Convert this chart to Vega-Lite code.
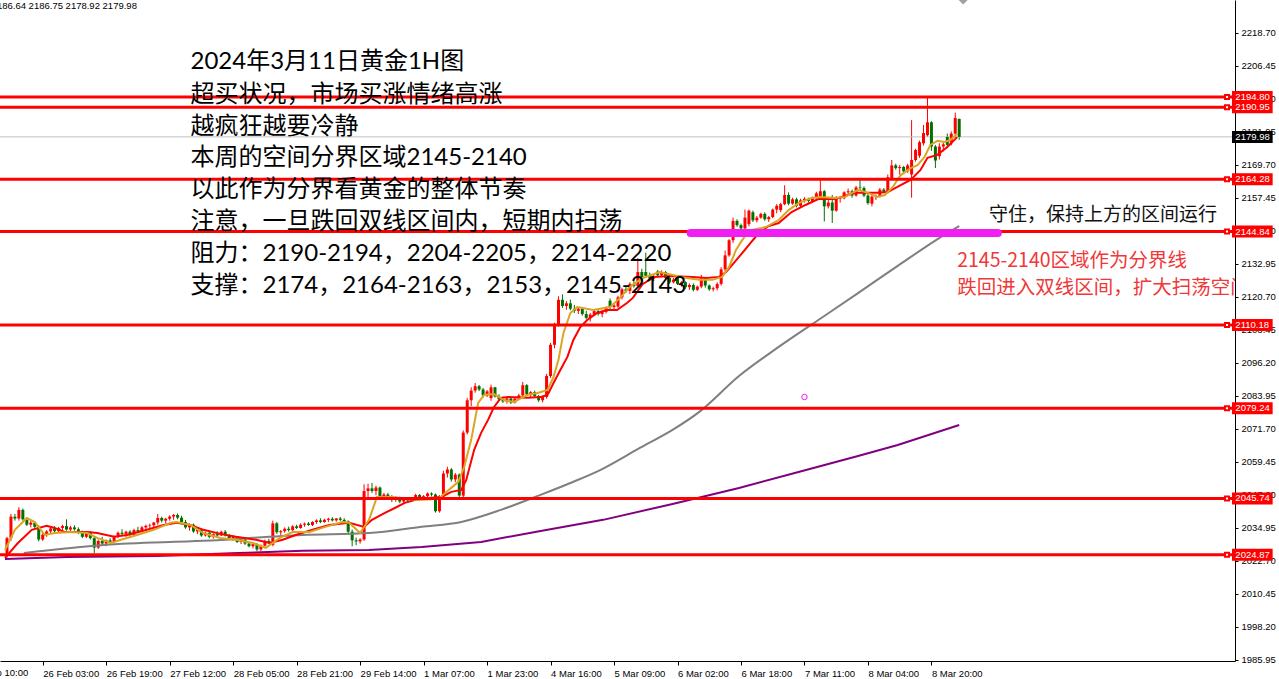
{
"$schema":"https://vega.github.io/schema/vega-lite/v6.json",
"width":1235,"height":661,
"autosize":{"type":"none"},
"padding":{"left":0,"top":0,"right":44,"bottom":18},
"background":"white",
"config":{"view":{"stroke":null},"axis":{"domainColor":"#000000","tickColor":"#000000","labelColor":"#000000","labelFont":"Liberation Sans","labelFontSize":9.5,"grid":false}},
"resolve":{"axis":{"x":"independent","y":"independent"}},
"datasets":{
"c":[
{"i":-9,"o":2025,"h":2031.5,"l":2023.7,"c":2031},
{"i":-8,"o":2031,"h":2040,"l":2030,"c":2039},
{"i":-7,"o":2039,"h":2040,"l":2037.5,"c":2038.3},
{"i":-6,"o":2038.3,"h":2042.5,"l":2037.5,"c":2041.5},
{"i":-5,"o":2041.5,"h":2042,"l":2037.5,"c":2038},
{"i":-4,"o":2038,"h":2038.8,"l":2035.5,"c":2036},
{"i":-3,"o":2036,"h":2037.5,"l":2035,"c":2036.8},
{"i":-2,"o":2036.8,"h":2037.2,"l":2034.5,"c":2035.2},
{"i":-1,"o":2035.2,"h":2035.8,"l":2029.8,"c":2030.5},
{"i":0,"o":2030.5,"h":2033,"l":2030,"c":2032.3},
{"i":1,"o":2032.3,"h":2034,"l":2031.5,"c":2033.5},
{"i":2,"o":2033.5,"h":2035,"l":2032.8,"c":2034.6},
{"i":3,"o":2034.6,"h":2035.5,"l":2033,"c":2033.6},
{"i":4,"o":2033.6,"h":2035.2,"l":2033.2,"c":2034.8},
{"i":5,"o":2034.8,"h":2036,"l":2034,"c":2035.5},
{"i":6,"o":2035.5,"h":2038,"l":2033.8,"c":2034.2},
{"i":7,"o":2034.2,"h":2035.6,"l":2033.5,"c":2035},
{"i":8,"o":2035,"h":2035.8,"l":2033.8,"c":2034.3},
{"i":9,"o":2034.3,"h":2035,"l":2032.5,"c":2033},
{"i":10,"o":2033,"h":2033.8,"l":2031,"c":2031.5},
{"i":11,"o":2031.5,"h":2033.5,"l":2031,"c":2033},
{"i":12,"o":2033,"h":2033.6,"l":2030.5,"c":2031},
{"i":13,"o":2031,"h":2031.5,"l":2025.5,"c":2027.5},
{"i":14,"o":2027.5,"h":2030.5,"l":2027,"c":2030},
{"i":15,"o":2030,"h":2031.5,"l":2028.5,"c":2029},
{"i":16,"o":2029,"h":2030.5,"l":2028,"c":2030.2},
{"i":17,"o":2030.2,"h":2031,"l":2029,"c":2029.6},
{"i":18,"o":2029.6,"h":2032,"l":2029.2,"c":2031.6},
{"i":19,"o":2031.6,"h":2033.5,"l":2031,"c":2033},
{"i":20,"o":2033,"h":2034.3,"l":2032,"c":2032.6},
{"i":21,"o":2032.6,"h":2033.8,"l":2031.5,"c":2033.4},
{"i":22,"o":2033.4,"h":2034,"l":2031.8,"c":2032.2},
{"i":23,"o":2032.2,"h":2034.5,"l":2032,"c":2034},
{"i":24,"o":2034,"h":2035.2,"l":2033,"c":2033.5},
{"i":25,"o":2033.5,"h":2035.5,"l":2033.2,"c":2035},
{"i":26,"o":2035,"h":2036,"l":2034,"c":2035.6},
{"i":27,"o":2035.6,"h":2036.4,"l":2034.5,"c":2035.8},
{"i":28,"o":2035.8,"h":2037,"l":2035,"c":2036.8},
{"i":29,"o":2036.8,"h":2040,"l":2036,"c":2038.5},
{"i":30,"o":2038.5,"h":2039,"l":2036.8,"c":2037.5},
{"i":31,"o":2037.5,"h":2038.6,"l":2036.5,"c":2038.2},
{"i":32,"o":2038.2,"h":2039.5,"l":2037.5,"c":2039},
{"i":33,"o":2039,"h":2040,"l":2037.8,"c":2039.6},
{"i":34,"o":2039.6,"h":2040.2,"l":2038,"c":2038.6},
{"i":35,"o":2038.6,"h":2039.3,"l":2036.5,"c":2037},
{"i":36,"o":2037,"h":2037.8,"l":2034.5,"c":2035},
{"i":37,"o":2035,"h":2036.5,"l":2033.8,"c":2036},
{"i":38,"o":2036,"h":2036.4,"l":2033,"c":2033.5},
{"i":39,"o":2033.5,"h":2034.8,"l":2032.5,"c":2034.2},
{"i":40,"o":2034.2,"h":2034.6,"l":2031.5,"c":2032},
{"i":41,"o":2032,"h":2033.5,"l":2031.6,"c":2033},
{"i":42,"o":2033,"h":2033.4,"l":2031,"c":2031.5},
{"i":43,"o":2031.5,"h":2032.8,"l":2030.8,"c":2032.5},
{"i":44,"o":2032.5,"h":2033.6,"l":2031.5,"c":2032},
{"i":45,"o":2032,"h":2033.8,"l":2031.8,"c":2033.4},
{"i":46,"o":2033.4,"h":2034,"l":2031.6,"c":2032},
{"i":47,"o":2032,"h":2032.6,"l":2030.5,"c":2031},
{"i":48,"o":2031,"h":2032,"l":2030,"c":2031.5},
{"i":49,"o":2031.5,"h":2031.8,"l":2029.2,"c":2029.6},
{"i":50,"o":2029.6,"h":2031,"l":2028.8,"c":2030.5},
{"i":51,"o":2030.5,"h":2031,"l":2028.5,"c":2029},
{"i":52,"o":2029,"h":2029.6,"l":2027.6,"c":2028},
{"i":53,"o":2028,"h":2029.4,"l":2027.2,"c":2028.8},
{"i":54,"o":2028.8,"h":2029.2,"l":2026.2,"c":2026.8},
{"i":55,"o":2026.8,"h":2028.6,"l":2026.2,"c":2028.2},
{"i":56,"o":2028.2,"h":2030.5,"l":2027.8,"c":2030},
{"i":57,"o":2030,"h":2030.8,"l":2028.8,"c":2029.4},
{"i":58,"o":2028.5,"h":2037.5,"l":2028,"c":2036.5},
{"i":59,"o":2036.5,"h":2037,"l":2032.6,"c":2033.2},
{"i":60,"o":2033.2,"h":2034,"l":2032.2,"c":2033.6},
{"i":61,"o":2033.6,"h":2035,"l":2033,"c":2034.5},
{"i":62,"o":2034.5,"h":2035.3,"l":2033.4,"c":2034},
{"i":63,"o":2034,"h":2035.8,"l":2033.6,"c":2035.4},
{"i":64,"o":2035.4,"h":2036,"l":2034.4,"c":2034.8},
{"i":65,"o":2034.8,"h":2036.5,"l":2034.5,"c":2036},
{"i":66,"o":2036,"h":2036.8,"l":2035.2,"c":2036.4},
{"i":67,"o":2036.4,"h":2037,"l":2035.6,"c":2035.9},
{"i":68,"o":2035.9,"h":2037.3,"l":2035.5,"c":2037},
{"i":69,"o":2037,"h":2038,"l":2036.3,"c":2037.6},
{"i":70,"o":2037.6,"h":2038.4,"l":2036.6,"c":2037},
{"i":71,"o":2037,"h":2038.2,"l":2036.7,"c":2037.8},
{"i":72,"o":2037.8,"h":2038.6,"l":2037,"c":2038.2},
{"i":73,"o":2038.2,"h":2038.8,"l":2037.2,"c":2037.6},
{"i":74,"o":2037.6,"h":2038.5,"l":2037.1,"c":2038.3},
{"i":75,"o":2038.3,"h":2038.9,"l":2037.4,"c":2037.8},
{"i":76,"o":2037.8,"h":2038.4,"l":2036.8,"c":2037.2},
{"i":77,"o":2037.2,"h":2037.6,"l":2032.8,"c":2033.4},
{"i":78,"o":2033.4,"h":2034.2,"l":2028,"c":2030.2},
{"i":79,"o":2030.2,"h":2031.2,"l":2028.4,"c":2029.8},
{"i":80,"o":2029.8,"h":2031,"l":2029,"c":2030.5},
{"i":81,"o":2030.5,"h":2051,"l":2030,"c":2048.5},
{"i":82,"o":2048.5,"h":2051.2,"l":2046,"c":2049.5},
{"i":83,"o":2049.5,"h":2051.5,"l":2047.8,"c":2048.5},
{"i":84,"o":2048.5,"h":2050.5,"l":2047,"c":2049.8},
{"i":85,"o":2049.8,"h":2050.2,"l":2045.8,"c":2046.5},
{"i":86,"o":2046.5,"h":2047.8,"l":2045.5,"c":2047.2},
{"i":87,"o":2047.2,"h":2047.8,"l":2045.6,"c":2046},
{"i":88,"o":2046,"h":2047,"l":2044.4,"c":2045.2},
{"i":89,"o":2045.2,"h":2046.5,"l":2044.5,"c":2046},
{"i":90,"o":2046,"h":2046.4,"l":2044,"c":2044.6},
{"i":91,"o":2044.6,"h":2045.8,"l":2043.8,"c":2045.4},
{"i":92,"o":2045.4,"h":2046,"l":2044.6,"c":2045},
{"i":93,"o":2045,"h":2046.2,"l":2044.5,"c":2045.8},
{"i":94,"o":2045.8,"h":2047.5,"l":2045.2,"c":2047},
{"i":95,"o":2047,"h":2047.4,"l":2045.2,"c":2045.7},
{"i":96,"o":2045.7,"h":2047,"l":2045.2,"c":2046.6},
{"i":97,"o":2046.6,"h":2048,"l":2046,"c":2047.6},
{"i":98,"o":2047.6,"h":2048,"l":2046.5,"c":2047.2},
{"i":99,"o":2047.2,"h":2047.6,"l":2040.5,"c":2041},
{"i":100,"o":2041,"h":2047,"l":2040.5,"c":2046.5},
{"i":101,"o":2046.5,"h":2056,"l":2046,"c":2055},
{"i":102,"o":2055,"h":2057.5,"l":2053.5,"c":2056.5},
{"i":103,"o":2056.5,"h":2057,"l":2052,"c":2052.8},
{"i":104,"o":2052.8,"h":2055.2,"l":2051.8,"c":2054.6},
{"i":105,"o":2054.6,"h":2055,"l":2046,"c":2046.8},
{"i":106,"o":2046.8,"h":2071,"l":2045.8,"c":2070.2},
{"i":107,"o":2070.2,"h":2083,"l":2069.5,"c":2082.2},
{"i":108,"o":2082.2,"h":2087,"l":2080,"c":2085.8},
{"i":109,"o":2085.8,"h":2088.6,"l":2085,"c":2087.4},
{"i":110,"o":2087.4,"h":2087.9,"l":2085.6,"c":2086.2},
{"i":111,"o":2086.2,"h":2086.8,"l":2083.2,"c":2084},
{"i":112,"o":2084,"h":2086,"l":2083.4,"c":2085.5},
{"i":113,"o":2083,"h":2088,"l":2082,"c":2087},
{"i":114,"o":2087,"h":2087.2,"l":2083.2,"c":2083.6},
{"i":115,"o":2083.6,"h":2084.4,"l":2082,"c":2082.6},
{"i":116,"o":2082.6,"h":2083.6,"l":2081.2,"c":2081.8},
{"i":117,"o":2081.8,"h":2083.4,"l":2081,"c":2082.9},
{"i":118,"o":2082.9,"h":2083.2,"l":2080.8,"c":2081.4},
{"i":119,"o":2081.4,"h":2083.5,"l":2081,"c":2082.8},
{"i":120,"o":2082.8,"h":2084.6,"l":2082.4,"c":2084},
{"i":121,"o":2084,"h":2089,"l":2083.6,"c":2087.8},
{"i":122,"o":2087.8,"h":2088.2,"l":2083.8,"c":2084.4},
{"i":123,"o":2084.4,"h":2085.6,"l":2083,"c":2085.2},
{"i":124,"o":2085.2,"h":2085.8,"l":2083.2,"c":2083.8},
{"i":125,"o":2083.8,"h":2084.2,"l":2081.6,"c":2082.2},
{"i":126,"o":2082.2,"h":2083.8,"l":2081.4,"c":2083.4},
{"i":127,"o":2083.4,"h":2092,"l":2082.8,"c":2091.2},
{"i":128,"o":2091.2,"h":2103.5,"l":2090.5,"c":2102.8},
{"i":129,"o":2102.8,"h":2111,"l":2101.5,"c":2110.3},
{"i":130,"o":2110.3,"h":2120.8,"l":2109.5,"c":2119.5},
{"i":131,"o":2119.5,"h":2121.5,"l":2116.5,"c":2117.2},
{"i":132,"o":2117.2,"h":2119,"l":2115.8,"c":2118.2},
{"i":133,"o":2118.2,"h":2119.6,"l":2115.6,"c":2116.2},
{"i":134,"o":2116.2,"h":2117.6,"l":2114.6,"c":2115.4},
{"i":135,"o":2115.4,"h":2116.8,"l":2114.2,"c":2116.2},
{"i":136,"o":2116.2,"h":2116.6,"l":2113.6,"c":2114.2},
{"i":137,"o":2114.2,"h":2115.4,"l":2112.2,"c":2112.8},
{"i":138,"o":2112.8,"h":2114.6,"l":2111.4,"c":2114},
{"i":139,"o":2114,"h":2115.8,"l":2113.5,"c":2115.3},
{"i":140,"o":2115.3,"h":2116,"l":2113.6,"c":2114.2},
{"i":141,"o":2114.2,"h":2115.6,"l":2113,"c":2115},
{"i":142,"o":2115,"h":2117,"l":2114.4,"c":2116.4},
{"i":143,"o":2119.2,"h":2120,"l":2116,"c":2116.8},
{"i":144,"o":2116.8,"h":2118,"l":2115.6,"c":2117.4},
{"i":145,"o":2117,"h":2121,"l":2116.5,"c":2120.4},
{"i":146,"o":2120.4,"h":2124,"l":2119.6,"c":2123.4},
{"i":147,"o":2123.4,"h":2124.5,"l":2122,"c":2122.8},
{"i":148,"o":2122.8,"h":2126,"l":2121.6,"c":2125.4},
{"i":149,"o":2125.4,"h":2127,"l":2124,"c":2124.6},
{"i":150,"o":2124.6,"h":2135,"l":2124,"c":2129.8},
{"i":151,"o":2129.8,"h":2131,"l":2126.8,"c":2127.5},
{"i":152,"o":2129.8,"h":2137,"l":2127.6,"c":2128.4},
{"i":153,"o":2128.4,"h":2129.6,"l":2126.6,"c":2127.4},
{"i":154,"o":2127.4,"h":2128.8,"l":2126.4,"c":2128.2},
{"i":155,"o":2130,"h":2130.6,"l":2128,"c":2128.6},
{"i":156,"o":2128.6,"h":2130.4,"l":2128,"c":2129.8},
{"i":157,"o":2129.8,"h":2130.2,"l":2127,"c":2127.6},
{"i":158,"o":2127.6,"h":2128.4,"l":2125.4,"c":2126},
{"i":159,"o":2126,"h":2127.6,"l":2125.6,"c":2127},
{"i":160,"o":2127.6,"h":2128,"l":2125,"c":2125.4},
{"i":161,"o":2125.4,"h":2126.4,"l":2124.4,"c":2126},
{"i":162,"o":2126,"h":2126.4,"l":2123.6,"c":2124.2},
{"i":163,"o":2124.2,"h":2125.6,"l":2123.2,"c":2125},
{"i":164,"o":2125,"h":2125.6,"l":2122.6,"c":2123.2},
{"i":165,"o":2123.2,"h":2124.8,"l":2122.8,"c":2124.4},
{"i":166,"o":2124.4,"h":2128.8,"l":2123.8,"c":2127.4},
{"i":167,"o":2127.4,"h":2128,"l":2124,"c":2124.8},
{"i":168,"o":2124.8,"h":2125.2,"l":2122.8,"c":2123.4},
{"i":169,"o":2123.4,"h":2124.4,"l":2122.6,"c":2123.8},
{"i":170,"o":2123.8,"h":2126,"l":2123,"c":2125.4},
{"i":171,"o":2125.4,"h":2131.6,"l":2124.8,"c":2130.8},
{"i":172,"o":2130.8,"h":2137.8,"l":2130,"c":2136},
{"i":173,"o":2136,"h":2142,"l":2135.5,"c":2141.6},
{"i":174,"o":2141.6,"h":2150,"l":2140.6,"c":2148.8},
{"i":175,"o":2148.8,"h":2149.4,"l":2146.6,"c":2147.2},
{"i":176,"o":2147.2,"h":2147.8,"l":2145.4,"c":2146},
{"i":177,"o":2146,"h":2153,"l":2145.6,"c":2150},
{"i":178,"o":2147.6,"h":2153,"l":2146.8,"c":2152.6},
{"i":179,"o":2152,"h":2152.6,"l":2148.4,"c":2149},
{"i":180,"o":2149,"h":2150.6,"l":2148.2,"c":2150},
{"i":181,"o":2150,"h":2151.8,"l":2149.6,"c":2151.4},
{"i":182,"o":2151.4,"h":2152,"l":2148.8,"c":2149.4},
{"i":183,"o":2149.4,"h":2150.6,"l":2148.4,"c":2150.2},
{"i":184,"o":2150.2,"h":2153.4,"l":2149.8,"c":2153},
{"i":185,"o":2153,"h":2155,"l":2151.6,"c":2154.4},
{"i":186,"o":2152.8,"h":2155.5,"l":2152,"c":2155},
{"i":187,"o":2155,"h":2162,"l":2154.6,"c":2158.4},
{"i":188,"o":2158.4,"h":2159.4,"l":2154.6,"c":2155.2},
{"i":189,"o":2155.2,"h":2157.4,"l":2154.8,"c":2156.8},
{"i":190,"o":2156.8,"h":2157.4,"l":2153.8,"c":2154.4},
{"i":191,"o":2154.4,"h":2157,"l":2154,"c":2156.4},
{"i":192,"o":2156.4,"h":2157.6,"l":2155.6,"c":2157},
{"i":193,"o":2157,"h":2157.4,"l":2155.6,"c":2156.2},
{"i":194,"o":2156.2,"h":2157.8,"l":2155.6,"c":2157.4},
{"i":195,"o":2157.4,"h":2159.6,"l":2157,"c":2159},
{"i":196,"o":2157,"h":2164,"l":2156.6,"c":2159.8},
{"i":197,"o":2159.8,"h":2160.2,"l":2148.6,"c":2154.2},
{"i":198,"o":2154.2,"h":2156.8,"l":2153.4,"c":2155.6},
{"i":199,"o":2155.6,"h":2158.4,"l":2148,"c":2152.6},
{"i":200,"o":2152.6,"h":2158,"l":2152.2,"c":2157},
{"i":201,"o":2157,"h":2157.8,"l":2155.6,"c":2157.2},
{"i":202,"o":2157.2,"h":2159.8,"l":2156.8,"c":2159.4},
{"i":203,"o":2159.4,"h":2160.8,"l":2158.4,"c":2159.8},
{"i":204,"o":2159.8,"h":2160.4,"l":2157.4,"c":2158.2},
{"i":205,"o":2158.2,"h":2161.8,"l":2157.8,"c":2161.2},
{"i":206,"o":2161.2,"h":2164.2,"l":2160.2,"c":2161},
{"i":207,"o":2161,"h":2161.6,"l":2157.6,"c":2158.2},
{"i":208,"o":2158.2,"h":2158.8,"l":2154.8,"c":2155.4},
{"i":209,"o":2155.2,"h":2158.4,"l":2154.2,"c":2157.8},
{"i":210,"o":2157.8,"h":2158.6,"l":2156.6,"c":2158},
{"i":211,"o":2158,"h":2161,"l":2157.6,"c":2160.4},
{"i":212,"o":2160.4,"h":2161,"l":2159.2,"c":2159.6},
{"i":213,"o":2159.6,"h":2166,"l":2159,"c":2165},
{"i":214,"o":2164.6,"h":2171.4,"l":2163.8,"c":2169.4},
{"i":215,"o":2169.4,"h":2170,"l":2167.8,"c":2168.4},
{"i":216,"o":2168.4,"h":2169.6,"l":2166,"c":2168.8},
{"i":217,"o":2168.8,"h":2169.2,"l":2166.8,"c":2167.2},
{"i":218,"o":2167.2,"h":2170,"l":2166.6,"c":2169.4},
{"i":219,"o":2166,"h":2186.2,"l":2157.4,"c":2171.4},
{"i":220,"o":2171.4,"h":2175.6,"l":2170.8,"c":2175.1},
{"i":221,"o":2173,"h":2178.6,"l":2172.2,"c":2178},
{"i":222,"o":2177.6,"h":2184.4,"l":2176.8,"c":2181.4},
{"i":223,"o":2180.6,"h":2194.8,"l":2180,"c":2185.4},
{"i":224,"o":2185.4,"h":2185.8,"l":2174.8,"c":2176.4},
{"i":225,"o":2176.4,"h":2177,"l":2168.4,"c":2171.2},
{"i":226,"o":2172.8,"h":2177.6,"l":2171.6,"c":2176.4},
{"i":227,"o":2176.4,"h":2177.8,"l":2174.6,"c":2177.2},
{"i":228,"o":2180,"h":2181.2,"l":2175.8,"c":2177},
{"i":229,"o":2177.6,"h":2182,"l":2176.8,"c":2181.2},
{"i":230,"o":2181.2,"h":2189,"l":2179.6,"c":2187},
{"i":231,"o":2186.64,"h":2186.75,"l":2178.92,"c":2179.98}
],
"ma1":[
{"i":-9.5,"p":2026.6},{"i":-7,"p":2034.1},{"i":-4,"p":2038.5},{"i":-2,"p":2037},{"i":0.5,"p":2032.2},{"i":3,"p":2032.9},{"i":7.25,"p":2033.3},{"i":11.25,"p":2032.9},{"i":13.75,"p":2031.1},{"i":17.25,"p":2029.2},{"i":19.75,"p":2030.4},{"i":23.75,"p":2032.2},{"i":28,"p":2034.1},{"i":32.25,"p":2036.7},{"i":33.75,"p":2037},{"i":37.25,"p":2035.9},{"i":40.5,"p":2032.9},{"i":44.75,"p":2031.1},{"i":48.75,"p":2030.4},{"i":53,"p":2029.2},{"i":56.25,"p":2027.4},{"i":59.75,"p":2031.1},{"i":63,"p":2033.3},{"i":67.25,"p":2033.3},{"i":71.25,"p":2035.2},{"i":75.5,"p":2037},{"i":77.25,"p":2036.7},{"i":80,"p":2032.9},{"i":82.25,"p":2037.8},{"i":84.25,"p":2046.3},{"i":88,"p":2046.3},{"i":94.75,"p":2045.2},{"i":99.75,"p":2045.6},{"i":104.75,"p":2051.9},{"i":106.25,"p":2057.5},{"i":108,"p":2067.5},{"i":109.75,"p":2081.2},{"i":111.25,"p":2084.2},{"i":113.75,"p":2084.5},{"i":116.25,"p":2082.3},{"i":118.75,"p":2081.6},{"i":122.25,"p":2084.2},{"i":124.75,"p":2084.9},{"i":127.25,"p":2086},{"i":128.75,"p":2090.9},{"i":130,"p":2097.2},{"i":131.25,"p":2107.2},{"i":133,"p":2114.6},{"i":134.75,"p":2116.8},{"i":138.75,"p":2115.7},{"i":143,"p":2116.8},{"i":145.5,"p":2120.2},{"i":148,"p":2124.3},{"i":151.25,"p":2127.6},{"i":155.5,"p":2129.8},{"i":158.75,"p":2128.7},{"i":162.25,"p":2127.6},{"i":165.5,"p":2126.9},{"i":168.75,"p":2126.9},{"i":171.25,"p":2128},{"i":173,"p":2131.7},{"i":174.75,"p":2138},{"i":176,"p":2141},{"i":177.25,"p":2143.6},{"i":178.75,"p":2145.4},{"i":182.25,"p":2146.5},{"i":185.5,"p":2149.1},{"i":188,"p":2152.8},{"i":190.5,"p":2155.4},{"i":193.75,"p":2157.3},{"i":196.25,"p":2157.7},{"i":199.75,"p":2157.3},{"i":202.25,"p":2157.7},{"i":205.5,"p":2160.3},{"i":208,"p":2159.2},{"i":210.5,"p":2157.7},{"i":212.25,"p":2158.4},{"i":214.25,"p":2161.4},{"i":216.25,"p":2165.8},{"i":218.75,"p":2168.4},{"i":220.5,"p":2169.5},{"i":222.25,"p":2172.5},{"i":223.75,"p":2177},{"i":225.5,"p":2178.5},{"i":227.25,"p":2178.1},{"i":228.75,"p":2178.8},{"i":230.5,"p":2181.1}
],
"ma2":[
{"i":-9.5,"p":2023.7},{"i":-6.25,"p":2029.2},{"i":-2.75,"p":2034.1},{"i":1,"p":2035.6},{"i":3,"p":2034.8},{"i":5.5,"p":2033.3},{"i":11.25,"p":2033.3},{"i":13.75,"p":2032.9},{"i":18,"p":2031.5},{"i":21.25,"p":2032.2},{"i":26.25,"p":2034.1},{"i":30.5,"p":2035.9},{"i":33.75,"p":2036.7},{"i":37.25,"p":2035.9},{"i":40.5,"p":2034.1},{"i":44.75,"p":2032.6},{"i":48.75,"p":2031.5},{"i":53.75,"p":2030.4},{"i":57.25,"p":2029.2},{"i":60.5,"p":2030.4},{"i":63.75,"p":2032.2},{"i":68,"p":2034.1},{"i":72.25,"p":2035.9},{"i":77.25,"p":2036.7},{"i":81,"p":2035.2},{"i":83,"p":2037.8},{"i":86.25,"p":2040.4},{"i":88.75,"p":2042.2},{"i":91.25,"p":2044.1},{"i":93.75,"p":2045.2},{"i":97.25,"p":2045.9},{"i":100.5,"p":2046.3},{"i":103,"p":2048.2},{"i":105.5,"p":2048.9},{"i":106.75,"p":2052.6},{"i":108.75,"p":2063.8},{"i":110.5,"p":2070.1},{"i":112.25,"p":2074.9},{"i":113.75,"p":2079.7},{"i":115.5,"p":2083.1},{"i":117.25,"p":2083.4},{"i":122.25,"p":2083.1},{"i":125.5,"p":2083.4},{"i":127.25,"p":2084.2},{"i":128.75,"p":2088.6},{"i":130.5,"p":2093.5},{"i":132.25,"p":2098.3},{"i":133.75,"p":2104.6},{"i":135.5,"p":2109.4},{"i":137.25,"p":2112},{"i":139.75,"p":2114.6},{"i":142.25,"p":2115.7},{"i":144.75,"p":2115.7},{"i":147.25,"p":2118.3},{"i":148.75,"p":2120.2},{"i":151.25,"p":2125.4},{"i":154.25,"p":2128},{"i":158,"p":2128.3},{"i":163.75,"p":2128},{"i":167.25,"p":2127.6},{"i":170.5,"p":2128},{"i":172.25,"p":2129.8},{"i":175.5,"p":2135.4},{"i":178,"p":2139.9},{"i":180.5,"p":2144.3},{"i":183,"p":2146.9},{"i":185.5,"p":2148},{"i":188.75,"p":2152.1},{"i":192.25,"p":2154.7},{"i":195.5,"p":2156.9},{"i":199.75,"p":2156.9},{"i":204.75,"p":2159.2},{"i":210.5,"p":2159.2},{"i":213,"p":2159.5},{"i":216.25,"p":2162.1},{"i":218.75,"p":2164},{"i":221.25,"p":2167.7},{"i":223,"p":2172.2},{"i":225.5,"p":2173.3},{"i":228,"p":2176.2},{"i":230.5,"p":2179.9}
],
"ma3":[
{"i":-4.75,"p":2025.5},{"i":15.5,"p":2028.5},{"i":40.5,"p":2030},{"i":65.5,"p":2032.2},{"i":82.25,"p":2032.9},{"i":95.5,"p":2035.2},{"i":105.5,"p":2037},{"i":115.5,"p":2041.5},{"i":125.5,"p":2047.1},{"i":133,"p":2051.5},{"i":140.5,"p":2056.3},{"i":150.5,"p":2064.5},{"i":158.75,"p":2071.2},{"i":165.5,"p":2077.9},{"i":175.5,"p":2091.2},{"i":185.5,"p":2102},{"i":195.5,"p":2112},{"i":205.5,"p":2122},{"i":215.5,"p":2132.1},{"i":227.25,"p":2143.6},{"i":231,"p":2146.9}
],
"ma4":[
{"i":-9.5,"p":2023.3},{"i":6.25,"p":2024},{"i":28.75,"p":2024.4},{"i":49.25,"p":2025.5},{"i":65.5,"p":2026.3},{"i":82.25,"p":2026.6},{"i":95.5,"p":2027.7},{"i":110.5,"p":2029.6},{"i":125.5,"p":2033.7},{"i":141.25,"p":2037.8},{"i":158.75,"p":2043.7},{"i":175.5,"p":2049.6},{"i":190.5,"p":2055.6},{"i":205.5,"p":2061.5},{"i":215.5,"p":2065.6},{"i":231,"p":2073}
],
"h":[{"p":2194.80},{"p":2190.95},{"p":2164.28},{"p":2144.84},{"p":2110.18},{"p":2079.24},{"p":2045.74},{"p":2024.87}],
"bid":[{"p":2179.98}],
"mag":[{"i":163.3,"p":2144.3},{"i":240.75,"p":2144.3}],
"circ":[{"i":192,"p":2083.4}],
"shift":[{"i":232,"p":2230.8}],
"txt":[
{"i":37.25,"p":2207.75,"t":"2024年3月11日黄金1H图"},
{"i":37.25,"p":2195.55,"t":"超买状况，市场买涨情绪高涨"},
{"i":37.25,"p":2183.65,"t":"越疯狂越要冷静"},
{"i":37.25,"p":2172.15,"t":"本周的空间分界区域2145-2140"},
{"i":37.25,"p":2160.25,"t":"以此作为分界看黄金的整体节奏"},
{"i":37.25,"p":2148.35,"t":"注意，一旦跌回双线区间内，短期内扫荡"},
{"i":37.25,"p":2136.55,"t":"阻力：2190-2194，2204-2205，2214-2220"},
{"i":37.25,"p":2124.65,"t":"支撑：2174，2164-2163，2153，2145-2143"}
],
"note":[{"i":238.5,"p":2150.85,"t":"守住，保持上方的区间运行"}],
"rnote":[
{"i":230.5,"p":2133.75,"t":"2145-2140区域作为分界线"},
{"i":230.5,"p":2123.75,"t":"跌回进入双线区间，扩大扫荡空间"}
],
"hdr":[{"i":23.75,"p":2228.6,"t":"2186.64 2186.75 2178.92 2179.98"}],
"xl":[{"i":-18,"t":"23 Feb 10:00"}]
},
"layer":[
{"data":{"name":"c"},"mark":{"type":"rule","strokeWidth":1},
 "encoding":{
  "x":{"field":"i","type":"quantitative","scale":{"domain":[-9.5,299.25],"nice":false,"zero":false},
   "axis":{"orient":"bottom","title":null,"values":[0,16,32,48,64,80,96,112,128,144,160,176,192,208,224],
    "labelExpr":"datum.value==0?'26 Feb 03:00':datum.value==16?'26 Feb 19:00':datum.value==32?'27 Feb 12:00':datum.value==48?'28 Feb 05:00':datum.value==64?'28 Feb 21:00':datum.value==80?'29 Feb 14:00':datum.value==96?'1 Mar 07:00':datum.value==112?'1 Mar 23:00':datum.value==128?'4 Mar 16:00':datum.value==144?'5 Mar 09:00':datum.value==160?'6 Mar 02:00':datum.value==176?'6 Mar 18:00':datum.value==192?'7 Mar 11:00':datum.value==208?'8 Mar 04:00':'8 Mar 20:00'",
    "labelAlign":"left","labelBaseline":"top","labelPadding":3,"labelDx":1,"tickSize":4,"labelOverlap":false,"labelFlush":false,"labelBound":false}},
  "y":{"field":"l","type":"quantitative","scale":{"domain":[1985.4,2230.8],"nice":false,"zero":false},
   "axis":{"orient":"right","title":null,"values":[1985.95,1998.2,2010.45,2022.7,2034.95,2047.2,2059.45,2071.7,2083.95,2096.2,2108.45,2120.7,2132.95,2145.2,2157.45,2169.7,2181.95,2194.2,2206.45,2218.7],
    "format":".2f","tickSize":3,"labelPadding":3,"labelBaseline":"middle","labelOverlap":false,"labelFlush":false,"labelBound":false}},
  "y2":{"field":"h"},
  "color":{"condition":{"test":"datum.c >= datum.o","value":"#ff0000"},"value":"#007000"}}},
{"data":{"name":"xl"},"mark":{"type":"text","align":"left","baseline":"top","font":"Liberation Sans","fontSize":9.5,"color":"#000000","dx":1,"dy":7},
 "encoding":{"x":{"field":"i","type":"quantitative","scale":{"domain":[-9.5,299.25],"nice":false,"zero":false},"axis":null},
  "y":{"datum":1985.4,"type":"quantitative","scale":{"domain":[1985.4,2230.8],"nice":false,"zero":false},"axis":null},
  "text":{"field":"t"}}},
{"data":{"name":"bid"},"mark":{"type":"rule","color":"#c0c0c0","strokeWidth":1},
 "encoding":{"y":{"field":"p","type":"quantitative","scale":{"domain":[1985.4,2230.8],"nice":false,"zero":false},"axis":null}}},
{"data":{"name":"c"},"mark":{"type":"bar","size":3},
 "encoding":{
  "x":{"field":"i","type":"quantitative","scale":{"domain":[-9.5,299.25],"nice":false,"zero":false},"axis":null},
  "y":{"field":"o","type":"quantitative","scale":{"domain":[1985.4,2230.8],"nice":false,"zero":false},"axis":null},
  "y2":{"field":"c"},
  "color":{"condition":{"test":"datum.c >= datum.o","value":"#ff0000"},"value":"#007000"}}},
{"data":{"name":"ma4"},"mark":{"type":"line","color":"#800080","strokeWidth":2},
 "encoding":{"x":{"field":"i","type":"quantitative","scale":{"domain":[-9.5,299.25],"nice":false,"zero":false},"axis":null},
  "y":{"field":"p","type":"quantitative","scale":{"domain":[1985.4,2230.8],"nice":false,"zero":false},"axis":null}}},
{"data":{"name":"ma3"},"mark":{"type":"line","color":"#7f7f7f","strokeWidth":2,"interpolate":"monotone"},
 "encoding":{"x":{"field":"i","type":"quantitative","scale":{"domain":[-9.5,299.25],"nice":false,"zero":false},"axis":null},
  "y":{"field":"p","type":"quantitative","scale":{"domain":[1985.4,2230.8],"nice":false,"zero":false},"axis":null}}},
{"data":{"name":"ma2"},"mark":{"type":"line","color":"#ff0000","strokeWidth":2},
 "encoding":{"x":{"field":"i","type":"quantitative","scale":{"domain":[-9.5,299.25],"nice":false,"zero":false},"axis":null},
  "y":{"field":"p","type":"quantitative","scale":{"domain":[1985.4,2230.8],"nice":false,"zero":false},"axis":null}}},
{"data":{"name":"ma1"},"mark":{"type":"line","color":"#daa520","strokeWidth":2},
 "encoding":{"x":{"field":"i","type":"quantitative","scale":{"domain":[-9.5,299.25],"nice":false,"zero":false},"axis":null},
  "y":{"field":"p","type":"quantitative","scale":{"domain":[1985.4,2230.8],"nice":false,"zero":false},"axis":null}}},
{"data":{"name":"h"},"mark":{"type":"rule","color":"#ff0000","strokeWidth":3},
 "encoding":{"y":{"field":"p","type":"quantitative","scale":{"domain":[1985.4,2230.8],"nice":false,"zero":false},"axis":null}}},
{"data":{"name":"h"},"mark":{"type":"point","shape":"square","size":16,"filled":false,"fill":"#ffffff","stroke":"#ff0000","strokeWidth":2,"opacity":1},
 "encoding":{"x":{"datum":298.5,"type":"quantitative","scale":{"domain":[-9.5,299.25],"nice":false,"zero":false},"axis":null},
  "y":{"field":"p","type":"quantitative","scale":{"domain":[1985.4,2230.8],"nice":false,"zero":false},"axis":null}}},
{"data":{"name":"shift"},"mark":{"type":"point","shape":"diamond","size":80,"filled":true,"color":"#a0a0a0","opacity":1},
 "encoding":{"x":{"field":"i","type":"quantitative","scale":{"domain":[-9.5,299.25],"nice":false,"zero":false},"axis":null},
  "y":{"field":"p","type":"quantitative","scale":{"domain":[1985.4,2230.8],"nice":false,"zero":false},"axis":null}}},
{"data":{"name":"mag"},"mark":{"type":"line","color":"#f01ef0","strokeWidth":8,"strokeCap":"round"},
 "encoding":{"x":{"field":"i","type":"quantitative","scale":{"domain":[-9.5,299.25],"nice":false,"zero":false},"axis":null},
  "y":{"field":"p","type":"quantitative","scale":{"domain":[1985.4,2230.8],"nice":false,"zero":false},"axis":null}}},
{"data":{"name":"circ"},"mark":{"type":"point","shape":"circle","size":30,"filled":false,"stroke":"#f01ef0","strokeWidth":1,"opacity":1},
 "encoding":{"x":{"field":"i","type":"quantitative","scale":{"domain":[-9.5,299.25],"nice":false,"zero":false},"axis":null},
  "y":{"field":"p","type":"quantitative","scale":{"domain":[1985.4,2230.8],"nice":false,"zero":false},"axis":null}}},
{"data":{"name":"txt"},"mark":{"type":"text","align":"left","baseline":"middle","font":"Lato, Noto Sans CJK SC","fontSize":24,"color":"#000000"},
 "encoding":{"x":{"field":"i","type":"quantitative","scale":{"domain":[-9.5,299.25],"nice":false,"zero":false},"axis":null},
  "y":{"field":"p","type":"quantitative","scale":{"domain":[1985.4,2230.8],"nice":false,"zero":false},"axis":null},
  "text":{"field":"t"}}},
{"data":{"name":"note"},"mark":{"type":"text","align":"left","baseline":"middle","font":"Noto Sans CJK SC","fontSize":19,"color":"#111111"},
 "encoding":{"x":{"field":"i","type":"quantitative","scale":{"domain":[-9.5,299.25],"nice":false,"zero":false},"axis":null},
  "y":{"field":"p","type":"quantitative","scale":{"domain":[1985.4,2230.8],"nice":false,"zero":false},"axis":null},
  "text":{"field":"t"}}},
{"data":{"name":"rnote"},"mark":{"type":"text","align":"left","baseline":"middle","font":"Noto Sans CJK SC","fontSize":19.5,"color":"#f03838","clip":true},
 "encoding":{"x":{"field":"i","type":"quantitative","scale":{"domain":[-9.5,299.25],"nice":false,"zero":false},"axis":null},
  "y":{"field":"p","type":"quantitative","scale":{"domain":[1985.4,2230.8],"nice":false,"zero":false},"axis":null},
  "text":{"field":"t"}}},
{"data":{"name":"hdr"},"mark":{"type":"text","align":"right","baseline":"middle","font":"Liberation Sans","fontSize":9.5,"color":"#000000"},
 "encoding":{"x":{"field":"i","type":"quantitative","scale":{"domain":[-9.5,299.25],"nice":false,"zero":false},"axis":null},
  "y":{"field":"p","type":"quantitative","scale":{"domain":[1985.4,2230.8],"nice":false,"zero":false},"axis":null},
  "text":{"field":"t"}}},
{"data":{"name":"h"},"mark":{"type":"rect","color":"#ff0000","yOffset":-6,"y2Offset":6},
 "encoding":{"x":{"datum":299.75,"type":"quantitative","scale":{"domain":[-9.5,299.25],"nice":false,"zero":false},"axis":null},
  "x2":{"datum":310},
  "y":{"field":"p","type":"quantitative","scale":{"domain":[1985.4,2230.8],"nice":false,"zero":false},"axis":null},
  "y2":{"field":"p"}}},
{"data":{"name":"bid"},"mark":{"type":"rect","color":"#000000","yOffset":-6,"y2Offset":6},
 "encoding":{"x":{"datum":299.75,"type":"quantitative","scale":{"domain":[-9.5,299.25],"nice":false,"zero":false},"axis":null},
  "x2":{"datum":310},
  "y":{"field":"p","type":"quantitative","scale":{"domain":[1985.4,2230.8],"nice":false,"zero":false},"axis":null},
  "y2":{"field":"p"}}},
{"data":{"name":"h"},"mark":{"type":"text","align":"left","baseline":"middle","font":"Liberation Sans","fontSize":9.5,"color":"#ffffff"},
 "encoding":{"x":{"datum":300.6,"type":"quantitative","scale":{"domain":[-9.5,299.25],"nice":false,"zero":false},"axis":null},
  "y":{"field":"p","type":"quantitative","scale":{"domain":[1985.4,2230.8],"nice":false,"zero":false},"axis":null},
  "text":{"field":"p","type":"quantitative","format":".2f"}}},
{"data":{"name":"bid"},"mark":{"type":"text","align":"left","baseline":"middle","font":"Liberation Sans","fontSize":9.5,"color":"#ffffff"},
 "encoding":{"x":{"datum":300.6,"type":"quantitative","scale":{"domain":[-9.5,299.25],"nice":false,"zero":false},"axis":null},
  "y":{"field":"p","type":"quantitative","scale":{"domain":[1985.4,2230.8],"nice":false,"zero":false},"axis":null},
  "text":{"field":"p","type":"quantitative","format":".2f"}}}
]
}
